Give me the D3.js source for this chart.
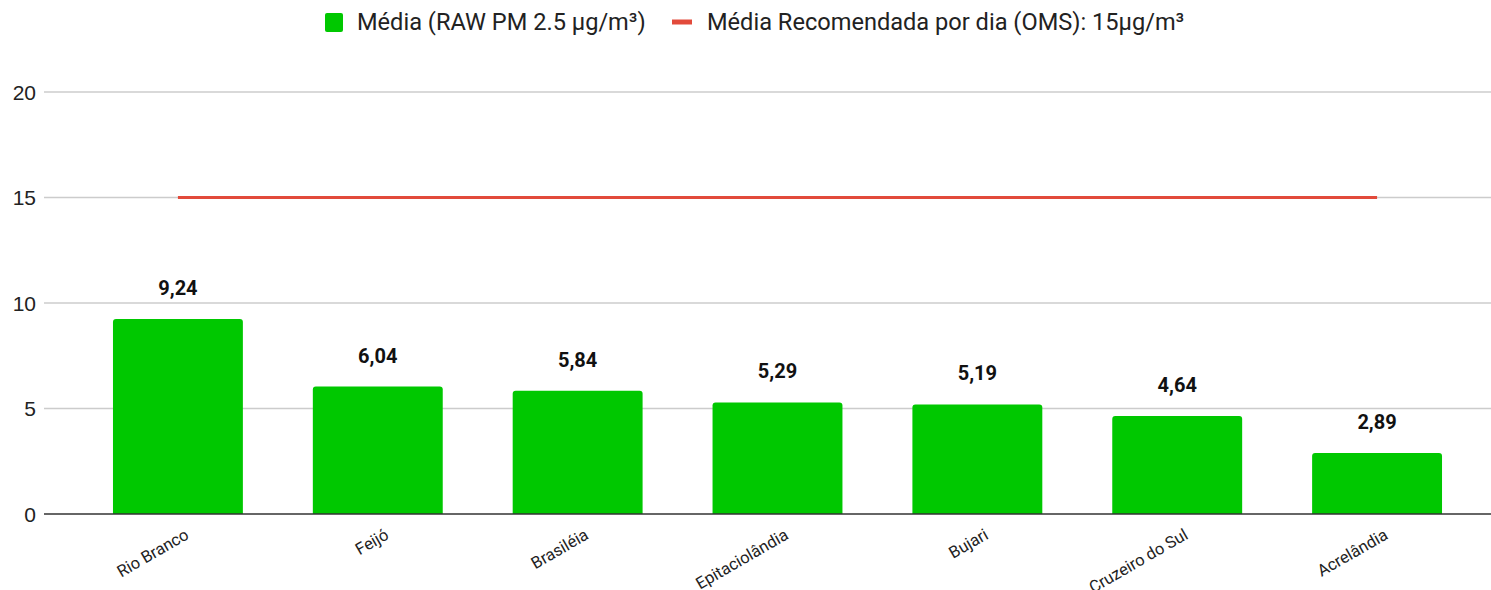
<!DOCTYPE html>
<html>
<head>
<meta charset="utf-8">
<script src="https://cdn.jsdelivr.net/npm/d3@7"></script>
<style>
  body { margin: 0; background: #fff; }
  svg { display: block; font-family: Roboto, Arial, sans-serif; }
</style>
</head>
<body>
<svg width="1491" height="590"></svg>
<script>
// values
var cities = ["Rio Branco", "Feijó", "Brasiléia", "Epitaciolândia", "Bujari", "Cruzeiro do Sul", "Acrelândia"];
var mediaPM = [9.24, 6.04, 5.84, 5.29, 5.19, 4.64, 2.89];
var limiteOMS = 15;
var yTicks = [0, 5, 10, 15, 20];
var legendLabels = ["Média (RAW PM 2.5 µg/m³)", "Média Recomendada por dia (OMS): 15µg/m³"];

var green = "#00c800";
var red = "#e24a3b";

var svg = d3.select("svg"),
    width = +svg.attr("width"),
    height = +svg.attr("height");

var x = d3.scaleBand()
    .domain(cities)
    .range([78, 1477])
    .paddingInner(0.35)
    .paddingOuter(0.175);

var y = d3.scaleLinear()
    .domain([0, 20])
    .range([514, 92]);

// grid
svg.append("g")
    .selectAll("line")
    .data(yTicks.filter(function (d) { return d > 0; }))
    .enter().append("line")
    .attr("x1", 44).attr("x2", width)
    .attr("y1", function (d) { return y(d); })
    .attr("y2", function (d) { return y(d); })
    .attr("stroke", "#cccccc")
    .attr("stroke-width", 1.5);

// y labels
svg.append("g")
    .selectAll("text")
    .data(yTicks)
    .enter().append("text")
    .attr("x", 36)
    .attr("y", function (d) { return y(d); })
    .attr("dy", "0.36em")
    .attr("text-anchor", "end")
    .style("font-family", "Arial, sans-serif")
    .style("font-size", "21px")
    .style("fill", "#222")
    .text(function (d) { return d; });

// bars
var data = cities.map(function (c, i) { return { city: c, v: mediaPM[i] }; });

svg.append("g")
    .selectAll("path")
    .data(data)
    .enter().append("path")
    .attr("fill", green)
    .attr("d", function (d) {
        var x0 = x(d.city), w = x.bandwidth(), top = y(d.v), b = y(0), r = 3;
        return "M" + x0 + "," + b +
            "V" + (top + r) + "Q" + x0 + "," + top + " " + (x0 + r) + "," + top +
            "H" + (x0 + w - r) + "Q" + (x0 + w) + "," + top + " " + (x0 + w) + "," + (top + r) +
            "V" + b + "Z";
    });

// value labels
svg.append("g")
    .selectAll("text")
    .data(data)
    .enter().append("text")
    .attr("x", function (d) { return x(d.city) + x.bandwidth() / 2; })
    .attr("y", function (d) { return y(d.v) - 24; })
    .attr("text-anchor", "middle")
    .style("font-weight", "bold")
    .style("font-size", "20px")
    .style("fill", "#111")
    .text(function (d) { return d3.format(".2f")(d.v).replace(".", ","); });

// baseline
svg.append("line")
    .attr("x1", 44).attr("x2", width)
    .attr("y1", y(0)).attr("y2", y(0))
    .attr("stroke", "#333")
    .attr("stroke-width", 1.5);

// OMS line
svg.append("line")
    .attr("x1", x(cities[0]) + x.bandwidth() / 2)
    .attr("x2", x(cities[cities.length - 1]) + x.bandwidth() / 2)
    .attr("y1", y(limiteOMS)).attr("y2", y(limiteOMS))
    .attr("stroke", red)
    .attr("stroke-width", 3);

// x labels, rotated
svg.append("g")
    .selectAll("text")
    .data(cities)
    .enter().append("text")
    .attr("text-anchor", "end")
    .attr("transform", function (d) {
        return "translate(" + (x(d) + x.bandwidth() / 2 + 12) + ",538) rotate(-30)";
    })
    .style("font-size", "16.5px")
    .style("fill", "#222")
    .text(function (d) { return d; });

// legend
var lg = svg.append("g");
lg.append("rect")
    .attr("x", 325).attr("y", 13)
    .attr("width", 18).attr("height", 19)
    .attr("rx", 2)
    .attr("fill", green);
lg.append("text")
    .attr("x", 357).attr("y", 30)
    .style("font-size", "23.6px")
    .style("fill", "#222")
    .text(legendLabels[0]);
lg.append("line")
    .attr("x1", 672).attr("x2", 692)
    .attr("y1", 22).attr("y2", 22)
    .attr("stroke", red)
    .attr("stroke-width", 5);
lg.append("text")
    .attr("x", 707).attr("y", 30)
    .style("font-size", "23.6px")
    .style("fill", "#222")
    .text(legendLabels[1]);
</script>
</body>
</html>
